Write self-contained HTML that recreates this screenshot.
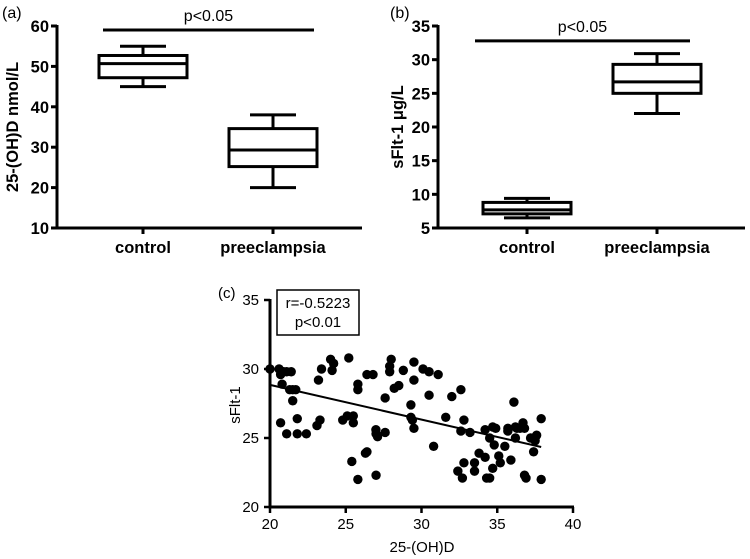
<!DOCTYPE html>
<html><head><meta charset="utf-8"><style>body{margin:0;background:#fff}svg{display:block}text{font-family:"Liberation Sans",Arial,sans-serif;fill:#000}</style></head>
<body>
<svg id="c" width="750" height="559"></svg>
<script>
const catsA=["control","preeclampsia"];
const boxA=[[45,47.2,50.7,52.7,55],[20,25.2,29.3,34.6,38]];
const ticksA=[10,20,30,40,50,60];
const catsB=["control","preeclampsia"];
const boxB=[[6.5,7.1,7.7,8.8,9.4],[22,25,26.7,29.3,30.9]];
const ticksB=[5,10,15,20,25,30,35];
const xsC=[20,20.6,20.9,20.7,21.1,21.4,20.8,21.3,21.5,21.7,21.5,20.7,21.1,21.8,21.8,22.4,23.1,23.2,23.4,23.3,24.0,24.2,24.1,25.2,24.8,25.1,25.5,25.5,25.8,25.8,25.4,25.8,26.4,26.8,26.3,26.4,26.99,27.0,27.1,27.0,27.6,27.6,27.9,28.0,27.9,28.2,28.5,28.8,29.3,29.3,29.4,29.5,29.5,29.5,30.1,30.5,31.1,30.5,30.8,31.6,32.0,32.6,32.6,32.8,33.2,32.4,32.7,32.8,33.5,33.5,33.8,34.2,34.3,34.5,34.2,34.5,34.7,34.9,34.7,34.8,35.1,35.2,35.5,35.7,35.7,35.9,36.1,36.2,36.2,36.3,36.5,36.7,36.8,36.8,36.9,37.2,37.4,37.6,37.9,37.9,37.5];
const ysC=[30,30,29.8,29.6,29.8,29.8,28.9,28.5,28.5,28.5,27.7,26.1,25.3,26.4,25.3,25.3,25.9,29.2,30.0,26.3,30.7,30.4,29.9,30.8,26.3,26.6,26.6,26.1,28.5,28.9,23.3,22.0,29.6,29.6,23.9,24.0,25.6,25.3,25.1,22.3,25.4,27.9,30.2,30.7,29.8,28.6,28.8,29.9,27.4,26.5,26.3,25.7,29.2,30.5,30,29.8,29.6,28.1,24.4,26.5,28.0,28.5,25.5,26.3,25.4,22.6,22.1,23.2,23.2,22.6,23.9,23.6,22.1,22.1,25.6,25.0,25.8,25.7,22.8,24.5,23.7,23.2,24.4,25.7,25.5,23.4,27.6,25.8,25.0,25.7,25.7,26.1,25.7,22.3,22.1,25.0,24.0,25.2,26.4,22.0,24.8];
const fitC=[[20,28.85],[37.9,24.35]];
const ticksCx=[20,25,30,35,40], ticksCy=[20,25,30,35];
const svg=document.getElementById('c');const NS='http://www.w3.org/2000/svg';
function el(t,a,p){const e=document.createElementNS(NS,t);for(const k in a)e.setAttribute(k,a[k]);(p||svg).appendChild(e);return e;}
function tx(x,y,s,a){const e=el('text',Object.assign({x:x,y:y},a));e.textContent=s;return e;}
function boxPanel(o){
 const g=el('g',{});
 
 
 const y=v=>o.y1-(v-o.min)/(o.max-o.min)*(o.y1-o.y0);
 el('line',{x1:o.ax,y1:o.y0-1,x2:o.ax,y2:o.y1+1.5,stroke:'#000','stroke-width':3},g);
 el('line',{x1:o.ax,y1:o.y1,x2:o.axEnd,y2:o.y1,stroke:'#000','stroke-width':3},g);
 o.ticks.forEach(t=>{el('line',{x1:o.ax-6,y1:y(t),x2:o.ax,y2:y(t),stroke:'#000','stroke-width':3},g);
  const l=tx(o.ax-8,y(t)+6,t,{'text-anchor':'end','font-size':16.5,'font-weight':'bold'});g.appendChild(l);});
 o.cats.forEach((c,i)=>{const cx=o.cx[i],b=o.box[i];
  el('line',{x1:cx,y1:o.y1,x2:cx,y2:o.y1+6,stroke:'#000','stroke-width':3},g);
  const l=tx(cx,o.y1+25,c,{'text-anchor':'middle','font-size':16.5,'font-weight':'bold'});g.appendChild(l);
  const bg=el('g',{},g);
  const s={stroke:'#000','stroke-width':3,fill:'none'};
  el('line',Object.assign({x1:cx,y1:y(b[0]),x2:cx,y2:y(b[1])},s),bg);
  el('line',Object.assign({x1:cx,y1:y(b[3]),x2:cx,y2:y(b[4])},s),bg);
  el('line',Object.assign({x1:cx-23,y1:y(b[0]),x2:cx+23,y2:y(b[0])},s),bg);
  el('line',Object.assign({x1:cx-23,y1:y(b[4]),x2:cx+23,y2:y(b[4])},s),bg);
  el('rect',Object.assign({x:cx-44,y:y(b[3]),width:88,height:y(b[1])-y(b[3])},s),bg);
  el('line',Object.assign({x1:cx-44,y1:y(b[2]),x2:cx+44,y2:y(b[2])},s),bg);
 });
 const sl=el('line',{x1:o.sig[0],y1:y(o.sig[2]),x2:o.sig[1],y2:y(o.sig[2]),stroke:'#000','stroke-width':3},g);
 
 const pt=tx((o.sig[0]+o.sig[1])/2,y(o.sig[2])-9,'p<0.05',{'text-anchor':'middle','font-size':16});g.appendChild(pt);
 const yl=tx(0,0,o.ylab,{'text-anchor':'middle','font-size':16.5,'font-weight':'bold',transform:`translate(${o.ylx},${(o.y0+o.y1)/2}) rotate(-90)`});g.appendChild(yl);
 const pl=tx(o.plx,18,o.lab,{'font-size':16});g.appendChild(pl);
}
boxPanel({name:'panel-a',ax:57,axEnd:362,y0:26,y1:228,min:10,max:60,ticks:ticksA,cats:catsA,cx:[143,273],box:boxA,sig:[103,314,59],ylab:'25-(OH)D nmol/L',ylx:18,plx:2,lab:'(a)'});
boxPanel({name:'panel-b',ax:438,axEnd:745,y0:26,y1:228,min:5,max:35,ticks:ticksB,cats:catsB,cx:[527,657],box:boxB,sig:[475,690,32.8],ylab:'sFlt-1 μg/L',ylx:403,plx:390,lab:'(b)'});
const g=el('g',{});


const X=v=>270+(v-20)/20*303, Y=v=>507-(v-20)/15*207;
el('line',{x1:270,y1:Y(35)-1,x2:270,y2:508.5,stroke:'#000','stroke-width':3},g);
el('line',{x1:270,y1:507,x2:574,y2:507,stroke:'#000','stroke-width':3},g);
ticksCx.forEach(t=>{el('line',{x1:X(t),y1:507,x2:X(t),y2:513,stroke:'#000','stroke-width':2.5},g);const l=tx(X(t),529,t,{'text-anchor':'middle','font-size':15});g.appendChild(l);});
ticksCy.forEach(t=>{el('line',{x1:264,y1:Y(t),x2:270,y2:Y(t),stroke:'#000','stroke-width':2.5},g);const l=tx(259,Y(t)+5,t,{'text-anchor':'end','font-size':15});g.appendChild(l);});
xsC.forEach((v,i)=>{const c=el('circle',{cx:X(v),cy:Y(ysC[i]),r:4.7,fill:'#000'},g);});
const fl=el('line',{x1:X(fitC[0][0]),y1:Y(fitC[0][1]),x2:X(fitC[1][0]),y2:Y(fitC[1][1]),stroke:'#000','stroke-width':2},g);

const ab=el('rect',{x:277,y:290,width:82,height:45,fill:'#fff',stroke:'#000','stroke-width':1.5},g);

let t1=tx(318,308,'r=-0.5223',{'text-anchor':'middle','font-size':15});g.appendChild(t1);
let t2=tx(318,327,'p<0.01',{'text-anchor':'middle','font-size':15});g.appendChild(t2);
let xt=tx(422,552,'25-(OH)D',{'text-anchor':'middle','font-size':15});g.appendChild(xt);
let yt=tx(0,0,'sFlt-1',{'text-anchor':'middle','font-size':15,transform:'translate(240,405) rotate(-90)'});g.appendChild(yt);
let pc=tx(218,298,'(c)',{'font-size':15});g.appendChild(pc);
</script>
</body></html>
